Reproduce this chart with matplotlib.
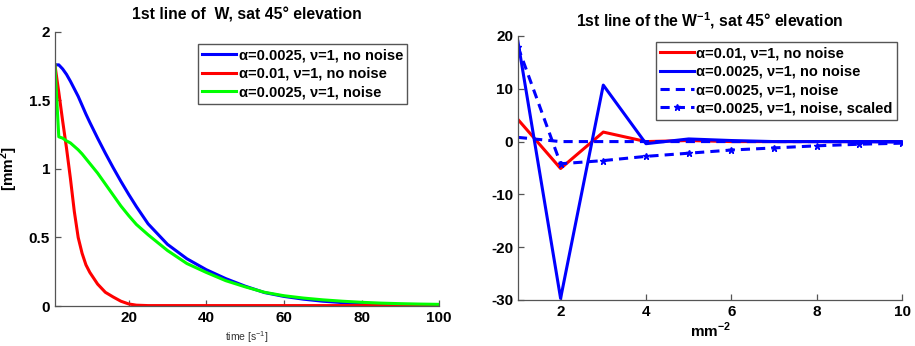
import numpy as np
import matplotlib

matplotlib.use("Agg")
import matplotlib.pyplot as plt

plt.rcParams["font.family"] = ["Liberation Sans", "DejaVu Sans"]
plt.rcParams["mathtext.fontset"] = "custom"
plt.rcParams["mathtext.rm"] = "Liberation Sans:bold"
plt.rcParams["mathtext.bf"] = "Liberation Sans:bold"
plt.rcParams["axes.unicode_minus"] = False

# -------------------------------------------------
# Left panel: 1st line of W over time
# -------------------------------------------------
t = [1, 2, 3, 4, 5, 6, 7, 8, 9, 10, 12, 14, 16, 18, 20, 22, 25, 30, 35, 40,
     45, 50, 55, 60, 65, 70, 75, 80, 85, 90, 95, 100]

w_a0025_clean = [1.76, 1.76, 1.73, 1.69, 1.64, 1.585, 1.53, 1.465, 1.40, 1.34,
                 1.225, 1.115, 1.01, 0.91, 0.815, 0.725, 0.60, 0.45, 0.345, 0.265,
                 0.20, 0.145, 0.098, 0.07, 0.05, 0.035, 0.025, 0.017, 0.011,
                 0.007, 0.005, 0.004]

w_a01_clean = [1.76, 1.56, 1.35, 1.15, 0.93, 0.69, 0.50, 0.385, 0.30, 0.245,
               0.16, 0.10, 0.066, 0.035, 0.015, 0.006, 0.003, 0.003, 0.003, 0.003,
               0.003, 0.003, 0.003, 0.003, 0.003, 0.003, 0.003, 0.003, 0.003,
               0.003, 0.003, 0.003]

w_a0025_noise = [1.76, 1.235, 1.225, 1.205, 1.19, 1.165, 1.14, 1.11, 1.075, 1.04,
                 0.97, 0.89, 0.81, 0.73, 0.66, 0.595, 0.52, 0.405, 0.31, 0.245,
                 0.185, 0.14, 0.10, 0.075, 0.058, 0.045, 0.035, 0.027, 0.021,
                 0.017, 0.014, 0.012]

# -------------------------------------------------
# Right panel: 1st line of W^-1
# -------------------------------------------------
k = [1, 2, 3, 4, 5, 6, 7, 8, 9, 10]
winv_a01_clean = [4.2, -5.1, 1.8, 0.0, 0.2, 0.0, 0.0, 0.0, 0.0, 0.0]
winv_a0025_clean = [19.0, -29.7, 10.7, -0.4, 0.5, 0.2, 0.0, 0.0, 0.0, 0.0]
winv_a0025_noise = [0.8, 0.0, 0.0, 0.0, 0.0, 0.0, 0.0, 0.0, 0.0, -0.1]
winv_a0025_scaled = [18.0, -4.2, -3.6, -2.8, -2.2, -1.6, -1.2, -0.8, -0.5, -0.3]

LW = 2.2
SPINE = "#555555"
LEG_FS = 10.5
TITLE_FS = 11.3


def style_axes(ax):
    for side in ("top", "right"):
        ax.spines[side].set_visible(False)
    for side in ("left", "bottom"):
        ax.spines[side].set_color(SPINE)
        ax.spines[side].set_linewidth(0.9)
    ax.tick_params(direction="in", length=4, width=0.9, color=SPINE,
                   labelsize=11)
    for lab in ax.get_xticklabels() + ax.get_yticklabels():
        lab.set_fontweight("bold")


def style_legend(leg):
    leg.get_frame().set_edgecolor(SPINE)
    leg.get_frame().set_linewidth(1.0)
    for txt in leg.get_texts():
        txt.set_fontweight("bold")


fig = plt.figure(figsize=(9.15, 3.46), dpi=100)

ax1 = fig.add_axes([0.060, 0.1156, 0.420, 0.792])
ax1.plot(t, w_a0025_clean, color="#0000ff", lw=LW,
         label="α=0.0025, ν=1, no noise")
ax1.plot(t, w_a01_clean, color="#ff0000", lw=LW,
         label="α=0.01, ν=1, no noise")
ax1.plot(t, w_a0025_noise, color="#00ff00", lw=LW,
         label="α=0.0025, ν=1, noise")
ax1.set_xlim(1, 100)
ax1.set_ylim(0, 2)
ax1.set_xticks([20, 40, 60, 80, 100])
ax1.set_yticks([0, 0.5, 1, 1.5, 2])
ax1.set_yticklabels(["0", "0.5", "1", "1.5", "2"])
style_axes(ax1)
ax1.set_title("1st line of  W, sat 45\u00b0 elevation", fontsize=TITLE_FS,
              fontweight="bold", pad=9)
ax1.set_xlabel(r"time [s$^{\mathregular{-1}}$]", fontsize=7.5,
               color="#333333", labelpad=3)
ax1.set_ylabel(r"[mm$^{\mathbf{2}}$]", fontsize=11, fontweight="bold",
               labelpad=6)
leg1 = ax1.legend(loc="upper right", bbox_to_anchor=(0.917, 0.956),
                  fontsize=LEG_FS, handlelength=2.3, handletextpad=0.2,
                  borderpad=0.3, labelspacing=0.3, fancybox=False,
                  framealpha=1, borderaxespad=0)
style_legend(leg1)

ax2 = fig.add_axes([0.566, 0.133, 0.420, 0.763])
ax2.plot(k, winv_a01_clean, color="#ff0000", lw=LW, ls="-",
         label="α=0.01, ν=1, no noise")
ax2.plot(k, winv_a0025_clean, color="#0000ff", lw=LW, ls="-",
         label="α=0.0025, ν=1, no noise")
ax2.plot(k, winv_a0025_noise, color="#0000ff", lw=LW, ls=(0, (3, 2)),
         label="α=0.0025, ν=1, noise")
ax2.plot(k, winv_a0025_scaled, color="#0000ff", lw=LW, ls=(0, (3, 2)),
         marker="*", markersize=5,
         label="α=0.0025, ν=1, noise, scaled")
ax2.set_xlim(1, 10)
ax2.set_ylim(-30, 20)
ax2.set_xticks([2, 4, 6, 8, 10])
ax2.set_yticks([-30, -20, -10, 0, 10, 20])
style_axes(ax2)
ax2.set_title("1st line of the W$^{\\mathbf{-1}}$, sat 45\u00b0 elevation",
              fontsize=TITLE_FS, fontweight="bold", pad=7)
ax2.set_xlabel(r"mm$^{\mathbf{-2}}$", fontsize=11, fontweight="bold",
               labelpad=1)
leg2 = ax2.legend(loc="upper right", bbox_to_anchor=(0.987, 0.977),
                  fontsize=LEG_FS, handlelength=2.3, handletextpad=0.2,
                  borderpad=0.3, labelspacing=0.3, fancybox=False,
                  framealpha=1, borderaxespad=0)
style_legend(leg2)

fig.savefig("out.png", dpi=100)
